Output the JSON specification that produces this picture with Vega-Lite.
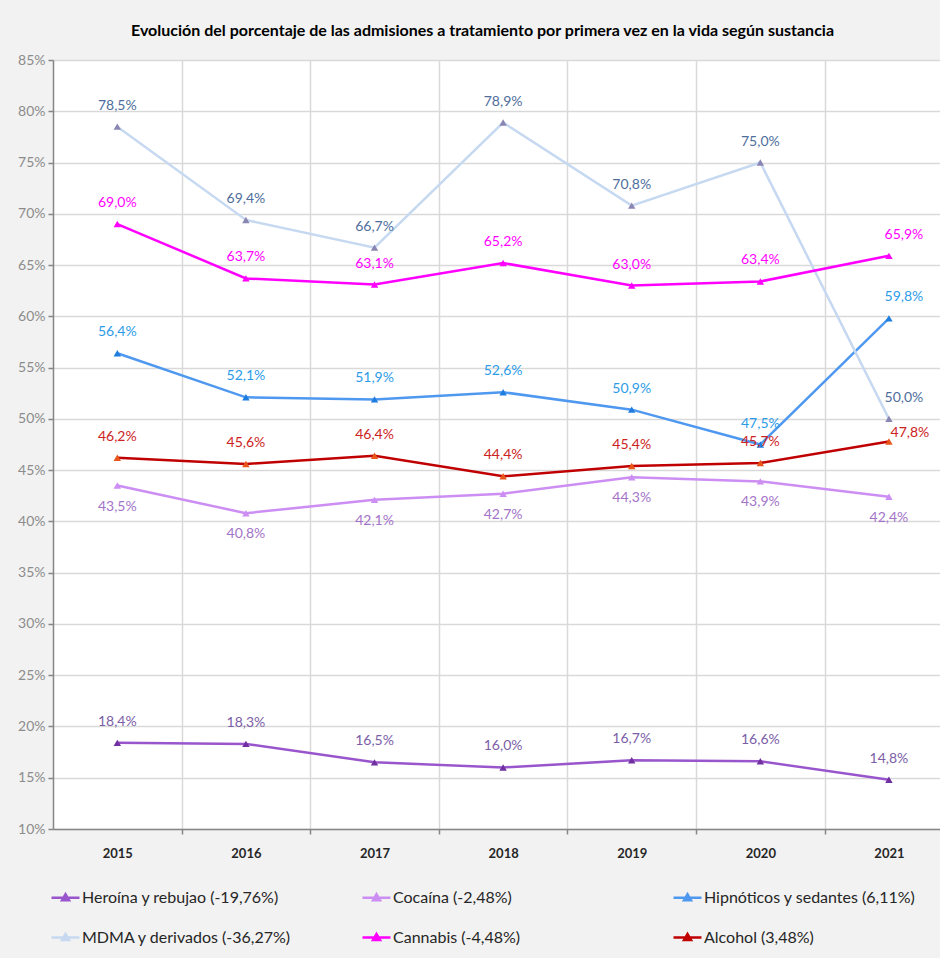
{
  "$schema": "https://vega.github.io/schema/vega-lite/v6.json",
  "autosize": {"type": "none"},
  "width": 887,
  "height": 769,
  "padding": {"left": 53, "top": 60, "right": 0, "bottom": 129},
  "background": "#f2f2f2",
  "config": {
    "locale": {"number": {"decimal": ",", "thousands": ".", "grouping": [3], "currency": ["", " €"]}},
    "view": {"fill": "white", "stroke": null},
    "font": "Lato"
  },
  "title": {
    "text": "Evolución del porcentaje de las admisiones a tratamiento por primera vez en la vida según sustancia",
    "anchor": "middle", "fontSize": 16, "fontWeight": "bold", "font": "Lato",
    "color": "#000000", "offset": 14, "dx": -14
  },
  "data": {"values": [
    {"s": "Heroína y rebujao (-19,76%)", "year": 2015, "v": 0.184},
    {"s": "Heroína y rebujao (-19,76%)", "year": 2016, "v": 0.183},
    {"s": "Heroína y rebujao (-19,76%)", "year": 2017, "v": 0.165},
    {"s": "Heroína y rebujao (-19,76%)", "year": 2018, "v": 0.160},
    {"s": "Heroína y rebujao (-19,76%)", "year": 2019, "v": 0.167},
    {"s": "Heroína y rebujao (-19,76%)", "year": 2020, "v": 0.166},
    {"s": "Heroína y rebujao (-19,76%)", "year": 2021, "v": 0.148},
    {"s": "Cocaína (-2,48%)", "year": 2015, "v": 0.435},
    {"s": "Cocaína (-2,48%)", "year": 2016, "v": 0.408},
    {"s": "Cocaína (-2,48%)", "year": 2017, "v": 0.421},
    {"s": "Cocaína (-2,48%)", "year": 2018, "v": 0.427},
    {"s": "Cocaína (-2,48%)", "year": 2019, "v": 0.443},
    {"s": "Cocaína (-2,48%)", "year": 2020, "v": 0.439},
    {"s": "Cocaína (-2,48%)", "year": 2021, "v": 0.424},
    {"s": "Hipnóticos y sedantes (6,11%)", "year": 2015, "v": 0.564},
    {"s": "Hipnóticos y sedantes (6,11%)", "year": 2016, "v": 0.521},
    {"s": "Hipnóticos y sedantes (6,11%)", "year": 2017, "v": 0.519},
    {"s": "Hipnóticos y sedantes (6,11%)", "year": 2018, "v": 0.526},
    {"s": "Hipnóticos y sedantes (6,11%)", "year": 2019, "v": 0.509},
    {"s": "Hipnóticos y sedantes (6,11%)", "year": 2020, "v": 0.475},
    {"s": "Hipnóticos y sedantes (6,11%)", "year": 2021, "v": 0.598},
    {"s": "MDMA y derivados (-36,27%)", "year": 2015, "v": 0.785},
    {"s": "MDMA y derivados (-36,27%)", "year": 2016, "v": 0.694},
    {"s": "MDMA y derivados (-36,27%)", "year": 2017, "v": 0.667},
    {"s": "MDMA y derivados (-36,27%)", "year": 2018, "v": 0.789},
    {"s": "MDMA y derivados (-36,27%)", "year": 2019, "v": 0.708},
    {"s": "MDMA y derivados (-36,27%)", "year": 2020, "v": 0.750},
    {"s": "MDMA y derivados (-36,27%)", "year": 2021, "v": 0.500},
    {"s": "Cannabis (-4,48%)", "year": 2015, "v": 0.690},
    {"s": "Cannabis (-4,48%)", "year": 2016, "v": 0.637},
    {"s": "Cannabis (-4,48%)", "year": 2017, "v": 0.631},
    {"s": "Cannabis (-4,48%)", "year": 2018, "v": 0.652},
    {"s": "Cannabis (-4,48%)", "year": 2019, "v": 0.630},
    {"s": "Cannabis (-4,48%)", "year": 2020, "v": 0.634},
    {"s": "Cannabis (-4,48%)", "year": 2021, "v": 0.659},
    {"s": "Alcohol (3,48%)", "year": 2015, "v": 0.462},
    {"s": "Alcohol (3,48%)", "year": 2016, "v": 0.456},
    {"s": "Alcohol (3,48%)", "year": 2017, "v": 0.464},
    {"s": "Alcohol (3,48%)", "year": 2018, "v": 0.444},
    {"s": "Alcohol (3,48%)", "year": 2019, "v": 0.454},
    {"s": "Alcohol (3,48%)", "year": 2020, "v": 0.457},
    {"s": "Alcohol (3,48%)", "year": 2021, "v": 0.478}
  ]},
  "encoding": {
    "x": {
      "field": "year", "type": "quantitative",
      "scale": {"domain": [2014.5, 2021.397], "nice": false, "zero": false},
      "axis": {
        "title": null,
        "values": [2015, 2015.5, 2016, 2016.5, 2017, 2017.5, 2018, 2018.5, 2019, 2019.5, 2020, 2020.5, 2021],
        "labelExpr": "datum.value % 1 == 0 ? format(datum.value, 'd') : ''",
        "grid": true, "gridColor": "#d9d9d9", "gridWidth": 1.5,
        "gridOpacity": {"condition": {"test": "datum.value % 1 != 0", "value": 1}, "value": 0},
        "ticks": true, "tickSize": 5, "tickColor": "#868686", "tickWidth": 1.5,
        "tickOpacity": {"condition": {"test": "datum.value % 1 != 0", "value": 1}, "value": 0},
        "domainColor": "#868686", "domainWidth": 1.5,
        "labelFontWeight": "bold", "labelFontSize": 13, "labelColor": "#262626",
        "labelPadding": 13, "labelFlush": false, "labelOverlap": false, "labelFont": "Lato"
      }
    },
    "y": {
      "field": "v", "type": "quantitative",
      "scale": {"domain": [0.10, 0.85], "nice": false, "zero": false},
      "axis": {
        "title": null,
        "values": [0.10, 0.15, 0.20, 0.25, 0.30, 0.35, 0.40, 0.45, 0.50, 0.55, 0.60, 0.65, 0.70, 0.75, 0.80, 0.85],
        "format": ".0%",
        "grid": true, "gridColor": "#d9d9d9", "gridWidth": 1.5,
        "tickSize": 5, "tickColor": "#868686", "tickWidth": 1.5,
        "domainColor": "#868686", "domainWidth": 1.5,
        "labelFontSize": 14, "labelColor": "#8c8c8c", "labelPadding": 3, "labelFont": "Lato"
      }
    }
  },
  "layer": [
    {
      "mark": {"type": "line", "strokeWidth": 2.5},
      "encoding": {
        "stroke": {
          "field": "s", "type": "nominal",
          "scale": {
            "domain": ["Heroína y rebujao (-19,76%)", "Cocaína (-2,48%)", "Hipnóticos y sedantes (6,11%)", "MDMA y derivados (-36,27%)", "Cannabis (-4,48%)", "Alcohol (3,48%)"],
            "range": ["#9955cc", "#cc8ef2", "#4f98f0", "#c6d9f1", "#ff00ff", "#c00000"]
          },
          "legend": {
            "title": null, "orient": "none", "legendX": -3, "legendY": 822,
            "direction": "horizontal", "columns": 3, "gridAlign": "all",
            "columnPadding": 63, "rowPadding": 16, "padding": 0,
            "symbolType": "M-1,0L1,0M-0.25,0.18L0,-0.25L0.25,0.18Z",
            "symbolSize": 784, "symbolStrokeWidth": 2.5,
            "labelFontSize": 16, "labelColor": "#262626", "labelFont": "Lato",
            "labelOffset": 1, "labelLimit": 400,
            "encode": {"symbols": {"update": {"fill": {"scale": "stroke", "field": "value"}, "fillOpacity": {"value": 1}}}}
          }
        }
      }
    },
    {
      "mark": {"type": "point", "shape": "triangle-up", "filled": true, "size": 55, "opacity": 1},
      "encoding": {
        "fill": {
          "field": "s", "type": "nominal", "legend": null,
          "scale": {
            "domain": ["Heroína y rebujao (-19,76%)", "Cocaína (-2,48%)", "Hipnóticos y sedantes (6,11%)", "MDMA y derivados (-36,27%)", "Cannabis (-4,48%)", "Alcohol (3,48%)"],
            "range": ["#7030a0", "#cc8ef2", "#1f7de0", "#8a86b4", "#ff00ff", "#e8561a"]
          }
        }
      }
    },
    {
      "transform": [{"filter": "datum.s != 'Cocaína (-2,48%)' && (datum.year != 2021 || datum.s == 'Heroína y rebujao (-19,76%)')"}],
      "mark": {"type": "text", "dy": -21, "fontSize": 14, "font": "Lato"},
      "encoding": {
        "text": {"field": "v", "type": "quantitative", "format": ".1%"},
        "fill": {
          "field": "s", "type": "nominal", "legend": null,
          "scale": {
            "domain": ["Heroína y rebujao (-19,76%)", "Cocaína (-2,48%)", "Hipnóticos y sedantes (6,11%)", "MDMA y derivados (-36,27%)", "Cannabis (-4,48%)", "Alcohol (3,48%)"],
            "range": ["#7b5ea7", "#a374c8", "#2d9ce8", "#4f6e9c", "#ff00ff", "#cc2222"]
          }
        }
      }
    },
    {
      "transform": [{"filter": "datum.year == 2021 && datum.s != 'Cocaína (-2,48%)' && datum.s != 'Heroína y rebujao (-19,76%)' && datum.s != 'Alcohol (3,48%)'"}],
      "mark": {"type": "text", "dy": -21, "dx": 15, "fontSize": 14, "font": "Lato"},
      "encoding": {
        "text": {"field": "v", "type": "quantitative", "format": ".1%"},
        "fill": {
          "field": "s", "type": "nominal", "legend": null,
          "scale": {
            "domain": ["Heroína y rebujao (-19,76%)", "Cocaína (-2,48%)", "Hipnóticos y sedantes (6,11%)", "MDMA y derivados (-36,27%)", "Cannabis (-4,48%)", "Alcohol (3,48%)"],
            "range": ["#7b5ea7", "#a374c8", "#2d9ce8", "#4f6e9c", "#ff00ff", "#cc2222"]
          }
        }
      }
    },
    {
      "transform": [{"filter": "datum.year == 2021 && datum.s == 'Alcohol (3,48%)'"}],
      "mark": {"type": "text", "dy": -8, "dx": 21, "fontSize": 14, "font": "Lato"},
      "encoding": {
        "text": {"field": "v", "type": "quantitative", "format": ".1%"},
        "fill": {
          "field": "s", "type": "nominal", "legend": null,
          "scale": {
            "domain": ["Heroína y rebujao (-19,76%)", "Cocaína (-2,48%)", "Hipnóticos y sedantes (6,11%)", "MDMA y derivados (-36,27%)", "Cannabis (-4,48%)", "Alcohol (3,48%)"],
            "range": ["#7b5ea7", "#a374c8", "#2d9ce8", "#4f6e9c", "#ff00ff", "#cc2222"]
          }
        }
      }
    },
    {
      "transform": [{"filter": "datum.s == 'Cocaína (-2,48%)'"}],
      "mark": {"type": "text", "dy": 21, "fontSize": 14, "font": "Lato"},
      "encoding": {
        "text": {"field": "v", "type": "quantitative", "format": ".1%"},
        "dx": {"condition": {"test": "datum.year == 2021", "value": 13}, "value": 0},
        "fill": {
          "field": "s", "type": "nominal", "legend": null,
          "scale": {
            "domain": ["Heroína y rebujao (-19,76%)", "Cocaína (-2,48%)", "Hipnóticos y sedantes (6,11%)", "MDMA y derivados (-36,27%)", "Cannabis (-4,48%)", "Alcohol (3,48%)"],
            "range": ["#7b5ea7", "#a374c8", "#2d9ce8", "#4f6e9c", "#ff00ff", "#cc2222"]
          }
        }
      }
    }
  ],
  "resolve": {"scale": {"fill": "independent"}}
}
